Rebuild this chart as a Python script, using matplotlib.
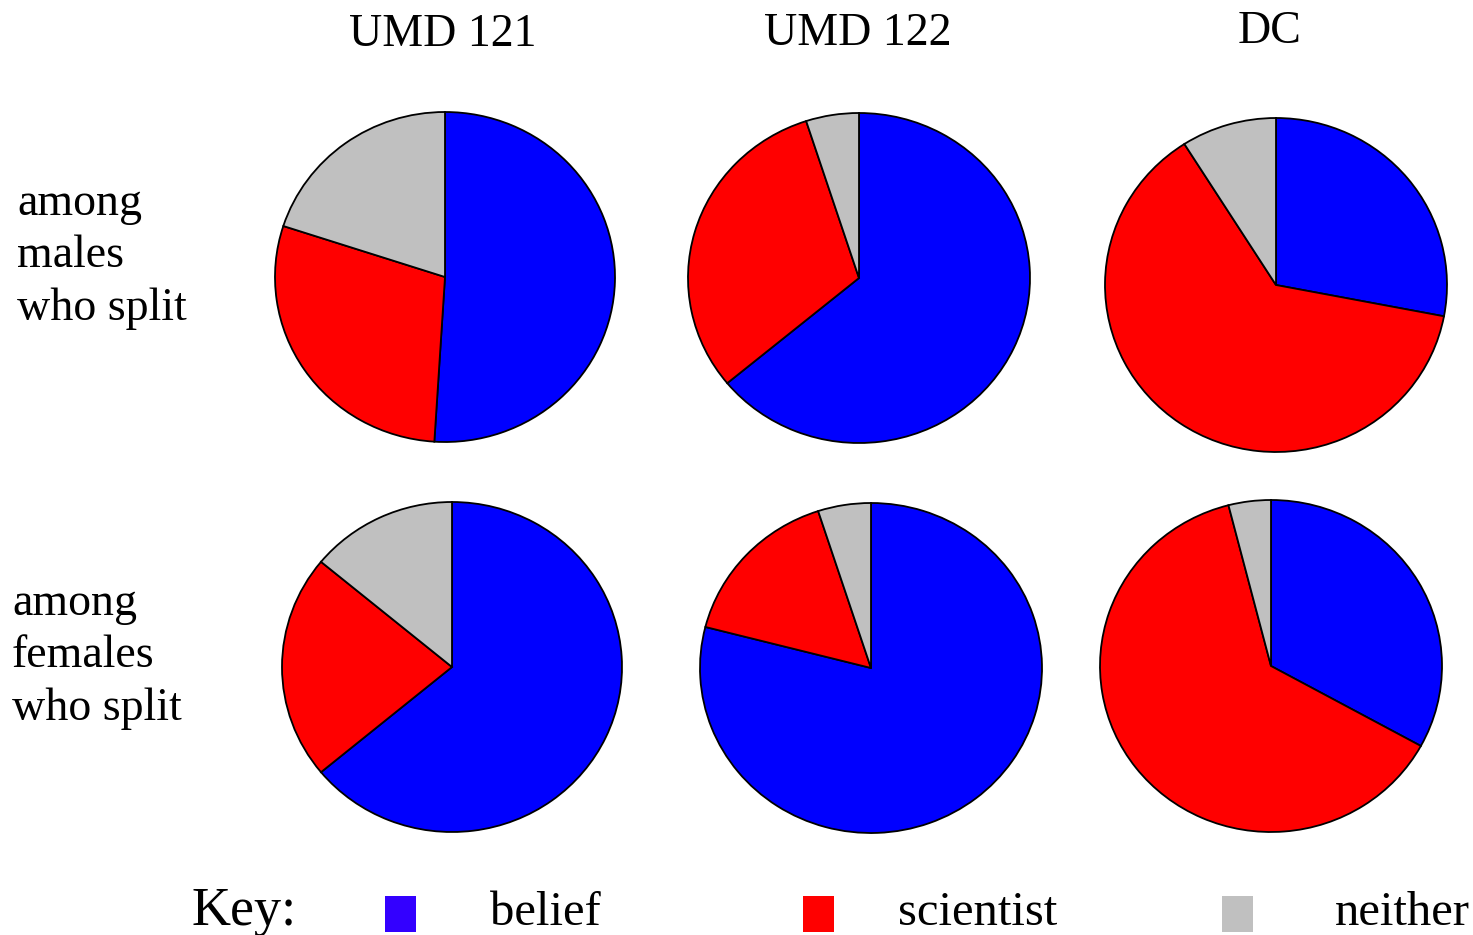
import matplotlib.pyplot as plt
import matplotlib.patches as patches

plt.rcParams['font.family'] = ['Liberation Serif', 'DejaVu Serif']

# Data (percent of students who split)
groups = ['UMD 121', 'UMD 122', 'DC']
categories = ['belief', 'scientist', 'neither']
belief_males = [51, 64, 28]
scientist_males = [29, 31, 63]
neither_males = [20, 5, 9]
belief_females = [64, 79, 33]
scientist_females = [22, 16, 63]
neither_females = [14, 5, 4]

pie_colors = ['#0000FF', '#FF0000', '#C0C0C0']
key_colors = ['#3300FF', '#FF0000', '#C0C0C0']

W, H = 1473, 935
fig = plt.figure(figsize=(W / 100, H / 100), dpi=100)
fig.patch.set_facecolor('white')

# pixel geometry of each pie: (center x, center y, rx, ry)
male_geom = [(445, 277, 170, 165), (859, 278, 171, 165), (1276, 285, 171, 167)]
female_geom = [(452, 667, 170, 165), (871, 668, 171, 165), (1271, 666, 171, 166)]


def draw_pie(values, geom):
    cx, cy, rx, ry = geom
    ax = fig.add_axes([(cx - rx) / W, 1 - (cy + ry) / H, 2 * rx / W, 2 * ry / H])
    ax.pie(values, colors=pie_colors, startangle=90, counterclock=False,
           wedgeprops=dict(edgecolor='black', linewidth=1.3))
    ax.set_aspect('auto')
    ax.set_xlim(-1, 1)
    ax.set_ylim(-1, 1)
    ax.axis('off')


for i in range(3):
    draw_pie([belief_males[i], scientist_males[i], neither_males[i]], male_geom[i])
    draw_pie([belief_females[i], scientist_females[i], neither_females[i]], female_geom[i])


def px(x, y):
    return x / W, 1 - y / H


# Column titles
title_pos = [(443, 35), (858, 34), (1270, 32)]
for g, (x, y) in zip(groups, title_pos):
    fig.text(*px(x, y), g, ha='center', va='center', fontsize=33)

# Row labels
fig.text(*px(17, 256), 'among\nmales\nwho split', ha='left', va='center',
         fontsize=33, linespacing=1.3)
fig.text(*px(12, 656), 'among\nfemales\nwho split', ha='left', va='center',
         fontsize=33, linespacing=1.3)

# Key
fig.text(*px(192, 925), 'Key:', ha='left', va='baseline', fontsize=39)
box_x = [385, 803, 1222]
label_x = [490, 898, 1335]
for c, bx, lx, lab in zip(key_colors, box_x, label_x, categories):
    fig.patches.append(patches.Rectangle(px(bx, 932), 31 / W, 36 / H,
                                         transform=fig.transFigure,
                                         facecolor=c, edgecolor='none'))
    fig.text(*px(lx, 925), lab, ha='left', va='baseline', fontsize=35)

fig.savefig('out.png', dpi=100, facecolor='white')
